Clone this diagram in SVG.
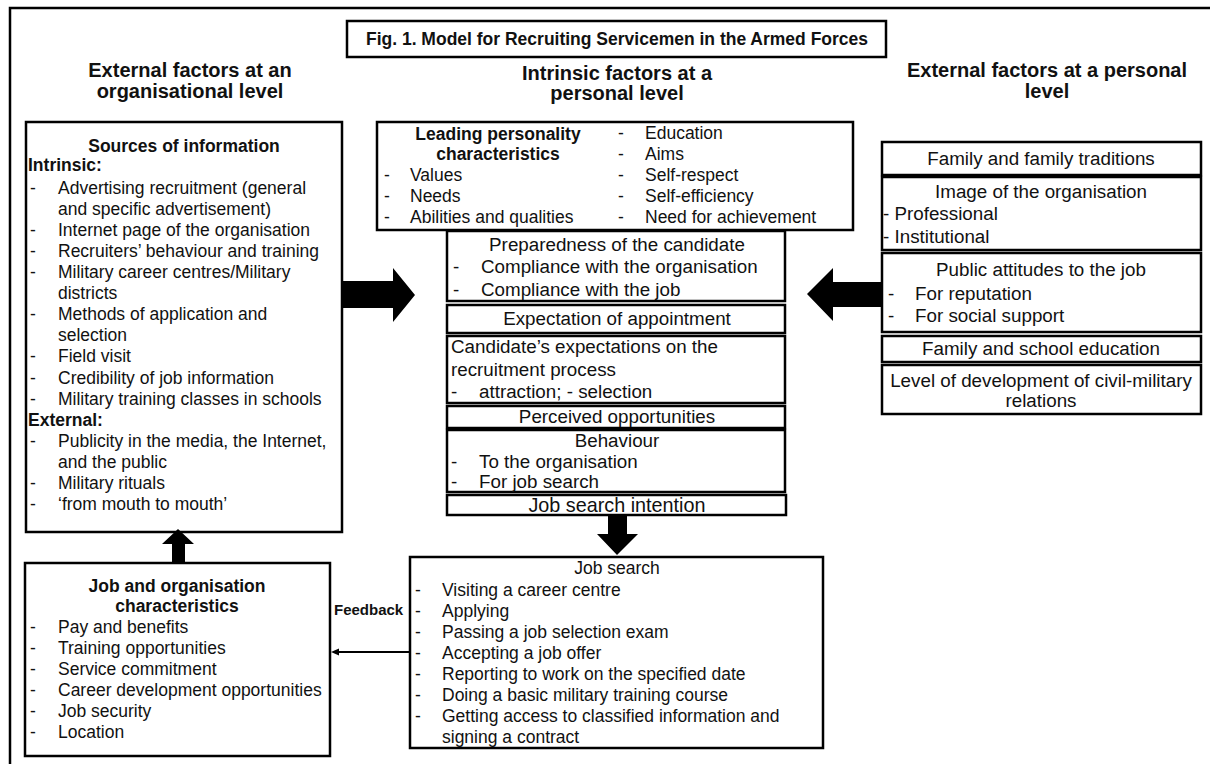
<svg xmlns="http://www.w3.org/2000/svg" width="1210" height="764" viewBox="0 0 1210 764">
<style>
.box{fill:#fff;stroke:#000;stroke-width:2.5}
.t{font-family:"Liberation Sans",Arial,sans-serif;font-size:17.5px;fill:#111}
.m{font-size:18.8px}
.b{font-weight:bold}
.h{font-family:"Liberation Sans",Arial,sans-serif;font-size:20px;font-weight:bold;fill:#111;text-anchor:middle}
.c{text-anchor:middle}
.arr{fill:#000}
</style>
<rect width="1210" height="764" fill="#fff"/>
<path d="M10,764 V8 H1210" fill="none" stroke="#000" stroke-width="2.5"/>

<g id="title">
<rect class="box" x="347" y="21" width="539" height="36"/>
<text class="t b c" x="617" y="45">Fig. 1. Model for Recruiting Servicemen in the Armed Forces</text>
</g>

<g id="headings">
<text class="h" x="190" y="77">External factors at an</text>
<text class="h" x="190" y="98">organisational level</text>
<text class="h" x="617" y="80">Intrinsic factors at a</text>
<text class="h" x="617" y="100">personal level</text>
<text class="h" x="1047" y="77">External factors at a personal</text>
<text class="h" x="1047" y="98">level</text>
</g>

<g id="sources">
<rect class="box" x="26" y="122" width="316" height="410"/>
<text class="t b c" x="184" y="152">Sources of information</text>
<text class="t b" x="28" y="171">Intrinsic:</text>
<g class="t">
<text x="30" y="194">-</text><text x="58" y="194">Advertising recruitment (general</text>
<text x="58" y="215">and specific advertisement)</text>
<text x="30" y="236">-</text><text x="58" y="236">Internet page of the organisation</text>
<text x="30" y="257">-</text><text x="58" y="257">Recruiters’ behaviour and training</text>
<text x="30" y="278">-</text><text x="58" y="278">Military career centres/Military</text>
<text x="58" y="299">districts</text>
<text x="30" y="320">-</text><text x="58" y="320">Methods of application and</text>
<text x="58" y="341">selection</text>
<text x="30" y="362">-</text><text x="58" y="362">Field visit</text>
<text x="30" y="384">-</text><text x="58" y="384">Credibility of job information</text>
<text x="30" y="405">-</text><text x="58" y="405">Military training classes in schools</text>
<text x="28" y="426" style="font-weight:bold">External:</text>
<text x="30" y="447">-</text><text x="58" y="447">Publicity in the media, the Internet,</text>
<text x="58" y="468">and the public</text>
<text x="30" y="489">-</text><text x="58" y="489">Military rituals</text>
<text x="30" y="510">-</text><text x="58" y="510">‘from mouth to mouth’</text>
</g>
</g>

<g id="job-org">
<rect class="box" x="25" y="563" width="305" height="193"/>
<text class="t b c" x="177" y="592">Job and organisation</text>
<text class="t b c" x="177" y="612">characteristics</text>
<g class="t">
<text x="30" y="633">-</text><text x="58" y="633">Pay and benefits</text>
<text x="30" y="654">-</text><text x="58" y="654">Training opportunities</text>
<text x="30" y="675">-</text><text x="58" y="675">Service commitment</text>
<text x="30" y="696">-</text><text x="58" y="696">Career development opportunities</text>
<text x="30" y="717">-</text><text x="58" y="717">Job security</text>
<text x="30" y="738">-</text><text x="58" y="738">Location</text>
</g>
</g>

<g id="leading">
<rect class="box" x="377" y="122" width="476" height="108"/>
<text class="t b c" x="498" y="140">Leading personality</text>
<text class="t b c" x="498" y="160">characteristics</text>
<g class="t">
<text x="384" y="181">-</text><text x="410" y="181">Values</text>
<text x="384" y="202">-</text><text x="410" y="202">Needs</text>
<text x="384" y="223">-</text><text x="410" y="223">Abilities and qualities</text>
<text x="618" y="139">-</text><text x="645" y="139">Education</text>
<text x="618" y="160">-</text><text x="645" y="160">Aims</text>
<text x="618" y="181">-</text><text x="645" y="181">Self-respect</text>
<text x="618" y="202">-</text><text x="645" y="202">Self-efficiency</text>
<text x="618" y="223">-</text><text x="645" y="223">Need for achievement</text>
</g>
</g>

<g id="preparedness">
<rect class="box" x="447" y="231" width="338" height="70"/>
<text class="t m c" x="617" y="251">Preparedness of the candidate</text>
<text class="t m" x="453" y="273">-</text><text class="t m" x="481" y="273">Compliance with the organisation</text>
<text class="t m" x="453" y="296">-</text><text class="t m" x="481" y="296">Compliance with the job</text>
</g>

<g id="expectation">
<rect class="box" x="447" y="305" width="338" height="28"/>
<text class="t m c" x="617" y="325">Expectation of appointment</text>
</g>

<g id="candidate-expectations">
<rect class="box" x="447" y="336" width="338" height="67"/>
<text class="t m" x="451" y="353">Candidate’s expectations on the</text>
<text class="t m" x="451" y="376">recruitment process</text>
<text class="t m" x="451" y="398">-</text><text class="t m" x="479" y="398">attraction; - selection</text>
</g>

<g id="perceived">
<rect class="box" x="447" y="406" width="338" height="22"/>
<text class="t m c" x="617" y="423">Perceived opportunities</text>
</g>

<g id="behaviour">
<rect class="box" x="447" y="430" width="338" height="62"/>
<text class="t m c" x="617" y="447">Behaviour</text>
<text class="t m" x="451" y="468">-</text><text class="t m" x="479" y="468">To the organisation</text>
<text class="t m" x="451" y="488">-</text><text class="t m" x="479" y="488">For job search</text>
</g>

<g id="intention">
<rect class="box" x="447" y="495" width="339" height="20"/>
<text class="t c" x="617" y="512" style="font-size:19.8px">Job search intention</text>
</g>

<g id="job-search">
<rect class="box" x="410" y="557" width="413" height="191"/>
<text class="t c" x="617" y="574">Job search</text>
<g class="t">
<text x="415" y="596">-</text><text x="442" y="596">Visiting a career centre</text>
<text x="415" y="617">-</text><text x="442" y="617">Applying</text>
<text x="415" y="638">-</text><text x="442" y="638">Passing a job selection exam</text>
<text x="415" y="659">-</text><text x="442" y="659">Accepting a job offer</text>
<text x="415" y="680">-</text><text x="442" y="680">Reporting to work on the specified date</text>
<text x="415" y="701">-</text><text x="442" y="701">Doing a basic military training course</text>
<text x="415" y="722">-</text><text x="442" y="722">Getting access to classified information and</text>
<text x="442" y="743">signing a contract</text>
</g>
</g>

<g id="family-traditions">
<rect class="box" x="882" y="142" width="319" height="33"/>
<text class="t m c" x="1041" y="165">Family and family traditions</text>
</g>
<g id="image">
<rect class="box" x="882" y="177" width="319" height="73"/>
<text class="t m c" x="1041" y="198">Image of the organisation</text>
<text class="t m" x="883" y="220">- Professional</text>
<text class="t m" x="883" y="243">- Institutional</text>
</g>
<g id="public-attitudes">
<rect class="box" x="882" y="253" width="319" height="79"/>
<text class="t m c" x="1041" y="276">Public attitudes to the job</text>
<text class="t m" x="888" y="300">-</text><text class="t m" x="915" y="300">For reputation</text>
<text class="t m" x="888" y="322">-</text><text class="t m" x="915" y="322">For social support</text>
</g>
<g id="family-school">
<rect class="box" x="882" y="336" width="319" height="26"/>
<text class="t m c" x="1041" y="355">Family and school education</text>
</g>
<g id="civil-military">
<rect class="box" x="882" y="365" width="319" height="49"/>
<text class="t m c" x="1041" y="387">Level of development of civil-military</text>
<text class="t m c" x="1041" y="407">relations</text>
</g>

<g id="connectors">
<polygon class="arr" points="342,281 393,281 393,268 415,295 393,322 393,308 342,308"/>
<polygon class="arr" points="882,282 833,282 833,268 807,294 833,321 833,307 882,307"/>
<polygon class="arr" points="172,562 172,544 162,544 178,529 194,544 185,544 185,562"/>
<polygon class="arr" points="608,516 627,516 627,534 638,534 617,555 597,534 608,534"/>
<line x1="410" y1="652" x2="336" y2="652" stroke="#000" stroke-width="2"/>
<polygon class="arr" points="331,652 339,648.5 339,655.5"/>
<text class="t b" x="334" y="615" style="font-size:15px">Feedback</text>
</g>
</svg>
